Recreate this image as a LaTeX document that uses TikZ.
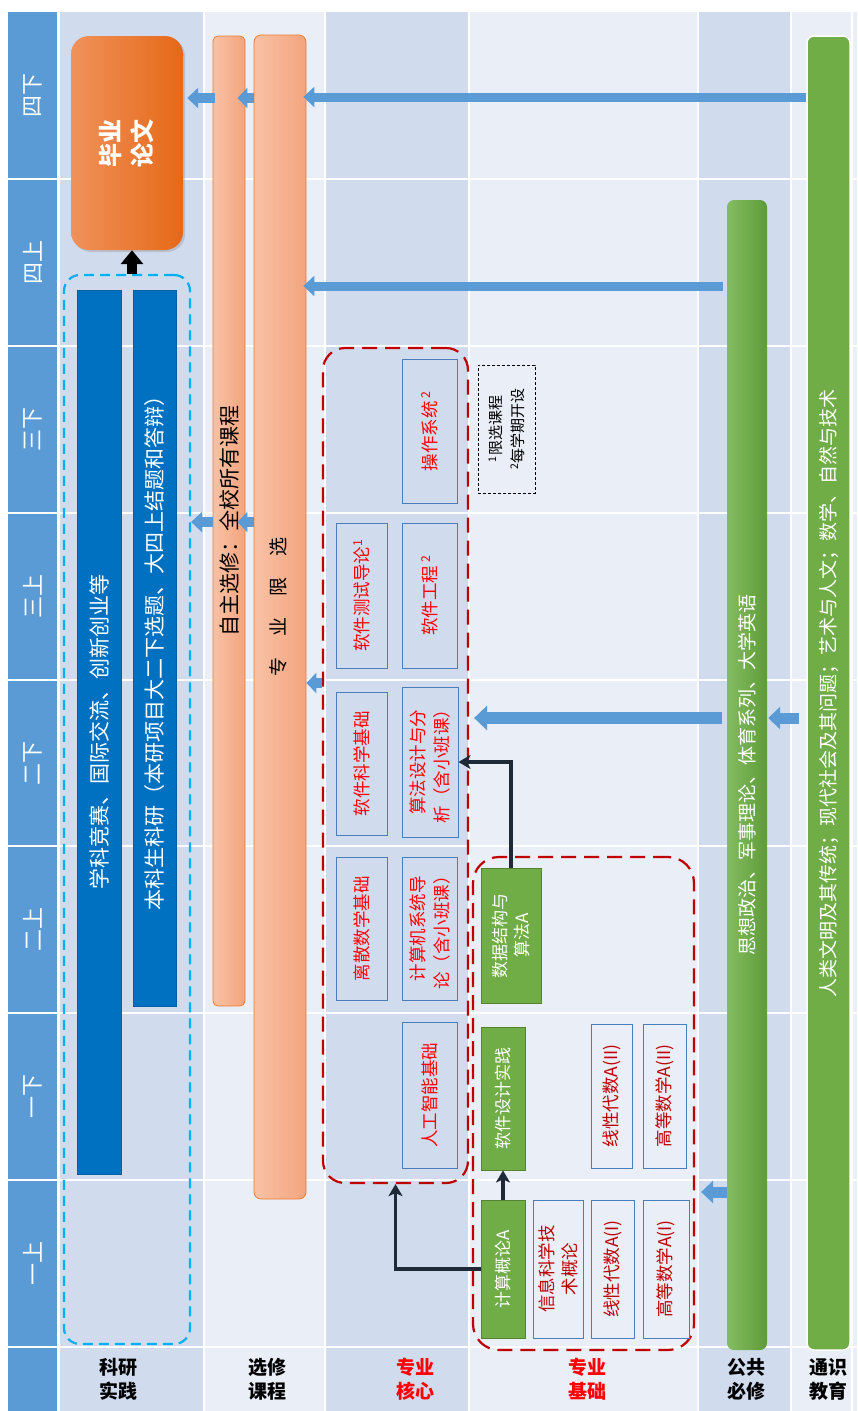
\documentclass[tikz,border=0pt]{standalone}
\usepackage{fontspec}
\setmainfont{Noto Sans CJK SC}
\usetikzlibrary{arrows.meta,shadows,calc}
\definecolor{hdr}{HTML}{5B9BD5}
\definecolor{bgd}{HTML}{D0DCEE}
\definecolor{bgl}{HTML}{E9EEF7}
\definecolor{kyblue}{HTML}{0070C0}
\definecolor{cyanline}{HTML}{00B0F0}
\definecolor{redline}{HTML}{C00000}
\definecolor{boxline}{HTML}{4A7EBB}
\definecolor{gr}{HTML}{70AD47}
\definecolor{grborder}{HTML}{548235}
\definecolor{grdark}{HTML}{5E9C38}
\definecolor{grlight}{HTML}{84BC62}
\definecolor{orl}{HTML}{F8C2A5}
\definecolor{ord}{HTML}{F4A47E}
\definecolor{orline}{HTML}{ED7D31}
\definecolor{bylight}{HTML}{F0925C}
\definecolor{bydark}{HTML}{E66816}
\definecolor{arrblue}{HTML}{5B9BD5}
\definecolor{connc}{HTML}{1F2A38}
\definecolor{txtred}{HTML}{FF0000}
\definecolor{txtdred}{HTML}{C00000}
\newcommand\fsz[2]{\fontsize{#1}{#2}\selectfont}
\newcommand\rkbox[8]{\node[#2,minimum width=#5pt,minimum height=#6pt] (#1) at (#3,#4) {};
  \node[#7] at (#1.center) {#8};}
\begin{document}
\begin{tikzpicture}[x=1pt,y=-1pt,
  vt/.style={rotate=90,align=center,inner sep=0pt},
  corebox/.style={draw=boxline,line width=0.9pt,inner sep=0pt},
  grbox/.style={draw=grborder,fill=gr,line width=0.9pt,inner sep=0pt},
  ctext/.style={vt,text=txtred,font=\fsz{17.5}{24}},
  btext/.style={vt,text=txtdred,font=\fsz{17.5}{23}},
  gtext/.style={vt,text=white,font=\fsz{17}{22}},
  kydash/.style={draw=cyanline,line width=2.2pt,dash pattern=on 10pt off 6pt,rounded corners=16pt,inner sep=0pt},
  reddash/.style={draw=redline,line width=2.2pt,dash pattern=on 15pt off 8pt,inner sep=0pt},
  kybar/.style={fill=kyblue,draw=kyblue!85!black,line width=0.5pt,inner sep=0pt},
  orbar/.style={draw=orline,line width=0.8pt,left color=orl,right color=ord,rounded corners=5pt,inner sep=0pt},
  barr/.style n args={3}{draw=arrblue,line width=#1,-{Triangle[length=#2,width=#3]}},
  connline/.style={draw=connc,line width=3.5pt,-{Stealth[length=12pt,width=14pt,inset=3pt]}},
  hlabel/.style={align=center,font=\fsz{19}{24}\bfseries,inner sep=0pt}
]
\useasboundingbox (0,0) rectangle (857,1411);
% background
\fill[white] (0,0) rectangle (857,1411);
\fill[hdr] (8,12) rectangle (57,1411);
\fill[bgd] (60,12) rectangle (204,1411);
\fill[bgl] (204,12) rectangle (325,1411);
\fill[bgd] (325,12) rectangle (469,1411);
\fill[bgl] (469,12) rectangle (698,1411);
\fill[bgd] (698,12) rectangle (791,1411);
\fill[bgl] (791,12) rectangle (857,1411);
\foreach \x in {204,325,469,698,791,852} \draw[white,line width=1.5pt] (\x,12) -- (\x,1411);
\foreach \y in {179,346,513,680,846,1013,1180,1347} \draw[white,line width=1.5pt] (8,\y) -- (857,\y);
% semester labels
\foreach \y/\t in {95.5/四下,262.5/四上,429.5/三下,596.5/三上,763/二下,929.5/二上,1096.5/一下,1263.5/一上}
  \node[vt,text=white,font=\fsz{22}{26}] at (33,\y) {\t};
% category labels
\node[hlabel] (lky) at (118,1379) {科研\\实践};
\node[hlabel] (lxx) at (267,1379) {选修\\课程};
\node[hlabel,text=txtred] (lhx) at (415,1379) {专业\\核心};
\node[hlabel,text=txtred] (ljc) at (587,1379) {专业\\基础};
\node[hlabel] (lgg) at (746,1379) {公共\\必修};
\node[hlabel] (lts) at (828,1379) {通识\\教育};
% graduation thesis
\node[rounded corners=18pt,left color=bylight,right color=bydark,minimum width=112pt,minimum height=214pt,inner sep=0pt,
  drop shadow={opacity=0.3,shadow xshift=2pt,shadow yshift=-2pt}] (byl) at (127,143) {};
\node[vt,text=white,font=\fsz{24}{32}\bfseries] at (byl.center) {毕业\\论文};
% research
\node[kydash,minimum width=126pt,minimum height=1069pt] (ky) at (127,809.5) {};
\node[kybar,minimum width=44pt,minimum height=884pt] (kyb1) at (99,732) {};
\node[vt,text=white,font=\fsz{21}{24}] at (kyb1.center) {学科竞赛、国际交流、创新创业等};
\node[kybar,minimum width=43pt,minimum height=716pt] (kyb2) at (154.5,648) {};
\node[vt,text=white,font=\fsz{21}{24}] at (kyb2.center) {本科生科研（本研项目大二下选题、大四上结题和答辩）};
\draw[draw=black,line width=10pt,-{Triangle[length=14pt,width=22pt]}] ([xshift=5pt]ky.north) -- ([xshift=5pt]byl.south);
% electives
\node[orbar,minimum width=32pt,minimum height=970pt] (zzxx) at (229,521) {};
\node[vt,font=\fsz{21}{24}] at (zzxx.center) {自主选修：全校所有课程};
\node[orbar,rounded corners=7pt,minimum width=52pt,minimum height=1164pt] (zyxx) at (280,617) {};
\node[vt,font=\fsz{19}{24}] at (278,607) {专\hspace{1.1em}业\hspace{1.1em}限\hspace{1.1em}选};
% general green bars
\node[left color=grlight,right color=grdark,rounded corners=7pt,minimum width=40pt,minimum height=1150pt,inner sep=0pt] (gggx) at (747,775) {};
\node[vt,text=white,font=\fsz{19}{24}] at (gggx.center) {思想政治、军事理论、体育系列、大学英语};
\node[fill=gr,draw=white,line width=1.5pt,rounded corners=7pt,minimum width=43pt,minimum height=1314pt,inner sep=0pt] (tsjy) at (828.5,693) {};
\node[vt,text=white,font=\fsz{19}{24}] at (tsjy.center) {人类文明及其传统；现代社会及其问题；艺术与人文；数学、自然与技术};
% core
\node[reddash,rounded corners=22pt,minimum width=145pt,minimum height=835pt] (core) at (395.5,765.5) {};
\rkbox{os}{corebox}{429.5}{431}{55}{144}{ctext}{操作系统\,\textsuperscript{2}}
\rkbox{rjcs}{corebox}{361.5}{595.5}{51}{145}{ctext}{软件测试导论\textsuperscript{1}}
\rkbox{rjgc}{corebox}{429.5}{595.5}{55}{145}{ctext}{软件工程\,\textsuperscript{2}}
\rkbox{rjkx}{corebox}{361.5}{763.5}{51}{143}{ctext}{软件科学基础}
\rkbox{sf}{corebox}{430}{762}{56}{150}{ctext}{算法设计与分\\析（含小班课）}
\rkbox{ls}{corebox}{361.5}{928.5}{51}{143}{ctext}{离散数学基础}
\rkbox{jsj}{corebox}{429.5}{928.5}{55}{143}{ctext}{计算机系统导\\论（含小班课）}
\rkbox{ai}{corebox}{429.5}{1095}{55}{146}{ctext}{人工智能基础}
% note
\node[draw=black,line width=0.8pt,dash pattern=on 3pt off 2pt,minimum width=57pt,minimum height=128pt,inner sep=0pt] (note) at (506.5,429) {};
\node[vt,font=\fsz{15}{22}] at (note.center) {\textsuperscript{1}限选课程\\\textsuperscript{2}每学期开设};
% basics
\node[reddash,rounded corners=26pt,minimum width=221pt,minimum height=493pt] (basic) at (583.5,1103.5) {};
\rkbox{sjjg}{grbox}{511}{935.5}{60}{135}{gtext}{数据结构与\\算法A}
\rkbox{rjsj}{grbox}{503}{1098.5}{44}{143}{gtext}{软件设计实践}
\rkbox{jsgl}{grbox}{503}{1269}{44}{138}{gtext}{计算概论A}
\rkbox{xxkx}{corebox}{558}{1269}{50}{138}{btext}{信息科学技\\术概论}
\rkbox{xd1}{corebox}{612.5}{1269}{43}{138}{btext}{线性代数A(I)}
\rkbox{gs1}{corebox}{666}{1269}{46}{138}{btext}{高等数学A(I)}
\rkbox{xd2}{corebox}{611.5}{1096}{41}{144}{btext}{线性代数A(II)}
\rkbox{gs2}{corebox}{664.5}{1096}{43}{144}{btext}{高等数学A(II)}
% blue block arrows
\draw[barr={10pt}{11pt}{20pt},shorten <=-2pt,shorten >=4pt] (zzxx.west |- 0,98) -- (byl.east |- 0,98);
\draw[barr={10pt}{10pt}{20pt},shorten >=-8pt] (zyxx.west |- 0,98) -- (zzxx.east |- 0,98);
\draw[barr={9pt}{11pt}{20pt},shorten >=-3pt] (tsjy.west |- 0,97) -- (zyxx.east |- 0,97);
\draw[barr={9pt}{11pt}{20pt},shorten >=-3pt,shorten <=4pt] (gggx.west |- 0,286) -- (zyxx.east |- 0,286);
\draw[barr={10pt}{11pt}{20pt}] (zzxx.west |- 0,522) -- (ky.east |- 0,522);
\draw[barr={10pt}{10pt}{20pt},shorten >=-8pt] (zyxx.west |- 0,522) -- (zzxx.east |- 0,522);
\draw[barr={10pt}{10pt}{20pt}] (core.west |- 0,683) -- (zyxx.east |- 0,683);
\draw[barr={12pt}{13pt}{24pt},shorten <=5pt,shorten >=5pt] (gggx.west |- 0,718) -- (core.east |- 0,718);
\draw[barr={11pt}{12pt}{22pt},shorten <=7pt,shorten >=1pt] (tsjy.west |- 0,718) -- (gggx.east |- 0,718);
\draw[barr={11pt}{12pt}{22pt},shorten >=6pt] (gggx.west |- 0,1192) -- (basic.east |- 0,1192);
% prerequisite connectors
\draw[connline] (jsgl.west) -| (core.south);
\draw[connline] (jsgl.north) -- (rjsj.south);
\draw[connline] (sjjg.north) |- (sf.east);
\end{tikzpicture}
\end{document}
